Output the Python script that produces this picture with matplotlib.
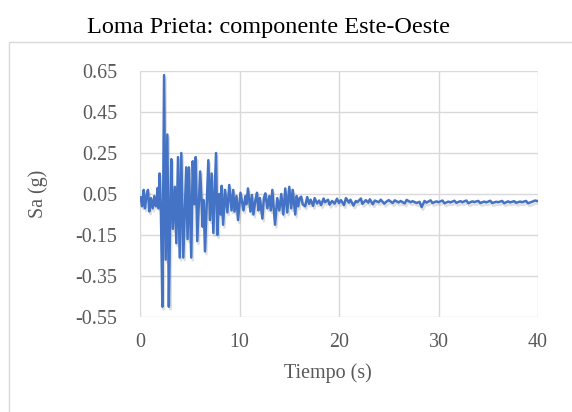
import matplotlib
matplotlib.use("Agg")
import matplotlib.pyplot as plt
import matplotlib.patheffects as pe
from matplotlib.patches import Rectangle

# Loma Prieta, E-W component: times (s) and spectral acceleration (g)
time_s = [
    0.0, 0.1, 0.2, 0.3, 0.37, 0.5, 0.6, 0.7, 0.8, 0.94, 1.1, 1.2, 1.27, 1.44, 1.6, 1.7,
    1.78, 1.87, 1.97, 2.1, 2.25, 2.42, 2.58, 2.75, 2.9, 3.05, 3.15, 3.3, 3.5, 3.65, 3.82,
    3.99, 4.15, 4.35, 4.65, 4.78, 4.92, 5.15, 5.3, 5.45, 5.6, 5.75, 6.05, 6.3, 6.4, 6.53,
    6.87, 7.03, 7.2, 7.37, 7.64, 7.77, 7.95, 8.11, 8.2, 8.35, 8.55, 8.78, 8.97, 9.2, 9.37,
    9.5, 9.7, 9.85, 10.1, 10.4, 10.6, 10.7, 10.85, 11.1, 11.25, 11.4, 11.6, 11.76, 11.9,
    12.05, 12.3, 12.45, 12.6, 12.8, 13.0, 13.15, 13.3, 13.57, 13.8, 14.0, 14.2, 14.4, 14.6,
    14.8, 15.0, 15.2, 15.35, 15.6, 15.75, 15.9, 16.05, 16.2, 16.35, 16.6, 16.8, 17.0, 17.15,
    17.4, 17.55, 17.8, 18.0, 18.2, 18.45, 18.6, 18.9, 19.05, 19.3, 19.55, 19.8,
    20.0, 20.2, 20.5, 20.7, 21.0, 21.15, 21.45, 21.7, 21.85, 22.2, 22.35, 22.7, 22.95, 23.1,
    23.4, 23.6, 24.0, 24.2, 24.55, 24.8, 25.0, 25.4, 25.6, 26.0, 26.2, 26.6, 26.8, 27.2,
    27.4, 27.8, 28.1, 28.3, 28.6, 28.8, 29.2, 29.4, 29.8, 30.0, 30.4, 30.6, 31.0, 31.2,
    31.6, 31.8, 32.2, 32.4, 32.8, 33.0, 33.4, 33.6, 34.0, 34.2, 34.6, 34.8, 35.2, 35.4,
    35.8, 36.0, 36.4, 36.6, 37.0, 37.2, 37.6, 37.8, 38.2, 38.4, 38.8, 39.0, 39.4, 39.7, 40.0,
]
accel_g = [
    0.02, 0.035, -0.01, 0.0, 0.07, -0.02, 0.02, 0.05, 0.07, -0.035, 0.03, 0.0, -0.02, 0.04, -0.01, 0.03,
    0.08, -0.02, 0.15, -0.03, -0.5, 0.63, -0.27, 0.34, -0.5, 0.0, 0.22, -0.12, 0.085, -0.19, 0.23,
    -0.26, 0.25, -0.26, 0.18, -0.17, 0.18, -0.26, 0.21, 0.0, 0.23, -0.18, 0.16, -0.11, 0.02, -0.23,
    0.215, -0.077, 0.15, -0.14, 0.25, -0.15, 0.05, -0.05, 0.09, -0.1, 0.07, -0.04, 0.094, -0.03, 0.07,
    -0.036, 0.04, -0.077, 0.056, -0.03, 0.04, 0.0, 0.077, -0.036, 0.045, -0.05, 0.02, 0.056, -0.03,
    0.03, -0.07, 0.03, 0.053, -0.02, 0.04, -0.03, 0.07, -0.1, 0.03, -0.03, 0.05, -0.05, 0.077,
    -0.04, 0.085, -0.02, 0.07, -0.05, 0.04, -0.01, 0.03, 0.037, 0.0, -0.01, 0.035, 0.002, 0.022,
    -0.008, 0.03, 0.004, 0.018, -0.004, 0.028, 0.01, 0.022, -0.002, 0.016, 0.003, 0.027,
    0.006, 0.02, -0.004, 0.03, 0.008, 0.022, -0.006, 0.016, 0.01, 0.028, 0.002, 0.02, 0.008, 0.024,
    0.0, 0.018, 0.01, 0.022, 0.003, 0.014, 0.02, 0.006, 0.019, 0.009, 0.016, 0.004, 0.021, 0.01,
    0.015, 0.006, 0.012, -0.014, 0.016, 0.008, 0.019, 0.006, 0.014, 0.01, 0.018, 0.005, 0.013, 0.009,
    0.017, 0.007, 0.015, 0.01, 0.018, 0.005, 0.014, 0.011, 0.016, 0.006, 0.013, 0.009, 0.017, 0.006,
    0.012, 0.01, 0.016, 0.005, 0.014, 0.009, 0.015, 0.007, 0.013, 0.01, 0.016, 0.005, 0.012, 0.018, 0.015,
]

x_ticks = [0, 10, 20, 30, 40]
y_ticks = [0.65, 0.45, 0.25, 0.05, -0.15, -0.35, -0.55]
y_tick_labels = ["0.65", "0.45", "0.25", "0.05", "-0.15", "-0.35", "-0.55"]

plt.rcParams["font.family"] = ["Liberation Serif", "DejaVu Serif"]
plt.rcParams["axes.unicode_minus"] = False

W, H = 572, 412
fig = plt.figure(figsize=(W / 100, H / 100), dpi=100)
fig.patch.set_facecolor("white")

# outer chart border (only left/top edges fall inside the crop)
fig.add_artist(Rectangle((9 / W, -0.1), 1.2, 1 - 42 / H + 0.1, transform=fig.transFigure,
                         fill=False, edgecolor="#D9D9D9", linewidth=1.0))

ax = fig.add_axes([140 / W, 1 - 317 / H, (538 - 140) / W, (317 - 71) / H])
ax.plot(time_s, accel_g, color="#4472C4", linewidth=1.8, solid_joinstyle="round",
        path_effects=[pe.SimpleLineShadow(offset=(1, -2), shadow_color="#808080", alpha=0.25),
                      pe.Normal()])

ax.set_xlim(0, 40)
ax.set_ylim(-0.55, 0.65)
ax.set_xticks(x_ticks)
ax.set_yticks(y_ticks)
ax.set_yticklabels(y_tick_labels)
ax.grid(True, color="#D9D9D9", linewidth=1.0)
ax.set_axisbelow(True)
for s in ax.spines.values():
    s.set_visible(False)
ax.tick_params(length=0, labelsize=14.4, labelcolor="#595959")
ax.tick_params(axis="y", pad=16.5)
ax.tick_params(axis="x", pad=11.5)

fig.text(268.7 / W, 1 - 28 / H, "Loma Prieta: componente Este-Oeste", ha="center", va="center",
         fontsize=17.5, color="black")
fig.text(327.5 / W, 1 - 373 / H, "Tiempo (s)", ha="center", va="center", fontsize=14.4, color="#595959")
fig.text(38 / W, 1 - 194 / H, "Sa (g)", ha="center", va="center", rotation=90, fontsize=14.4,
         color="#595959")

fig.savefig("out.png", dpi=100, facecolor="white")
